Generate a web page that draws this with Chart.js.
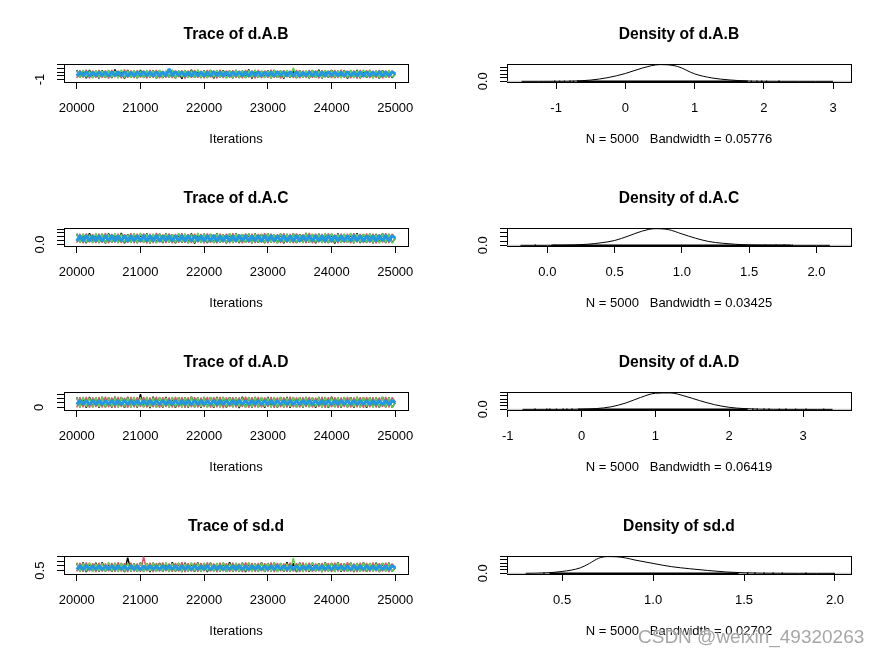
<!DOCTYPE html>
<html lang="en">
<head>
<meta charset="UTF-8">
<title>Trace and density plots</title>
<script src="https://cdn.jsdelivr.net/npm/chart.js"></script>
<style>
  body { margin: 0; background: #fff; }
  #wrap { position: relative; width: 886px; height: 655px; overflow: hidden; background: #fff; }
  .panel { position: absolute; width: 443px; height: 164px; }
  .wm { position: absolute; left: 638px; top: 626px; font: 19px 'Liberation Sans', Arial, sans-serif;
        color: rgba(150,150,150,0.85); text-shadow: 0 0 2px #fff, 0 0 2px #fff; white-space: nowrap; }
</style>
</head>
<body>
<div id="wrap">
  <div class="panel" style="left:0;top:0"><canvas id="traceAB" width="443" height="164"></canvas></div>
  <div class="panel" style="left:443px;top:0"><canvas id="densAB" width="443" height="164"></canvas></div>
  <div class="panel" style="left:0;top:164px"><canvas id="traceAC" width="443" height="164"></canvas></div>
  <div class="panel" style="left:443px;top:164px"><canvas id="densAC" width="443" height="164"></canvas></div>
  <div class="panel" style="left:0;top:328px"><canvas id="traceAD" width="443" height="164"></canvas></div>
  <div class="panel" style="left:443px;top:328px"><canvas id="densAD" width="443" height="164"></canvas></div>
  <div class="panel" style="left:0;top:492px"><canvas id="traceSD" width="443" height="164"></canvas></div>
  <div class="panel" style="left:443px;top:492px"><canvas id="densSD" width="443" height="164"></canvas></div>
  <div class="wm">CSDN @weixin_49320263</div>
</div>

<script>
// ---- data ----
const iterations = [
  20000, 20050, 20100, 20150, 20200, 20250, 20300, 20350, 20400, 20450,
  20500, 20550, 20600, 20650, 20700, 20750, 20800, 20850, 20900, 20950,
  21000, 21050, 21100, 21150, 21200, 21250, 21300, 21350, 21400, 21450,
  21500, 21550, 21600, 21650, 21700, 21750, 21800, 21850, 21900, 21950,
  22000, 22050, 22100, 22150, 22200, 22250, 22300, 22350, 22400, 22450,
  22500, 22550, 22600, 22650, 22700, 22750, 22800, 22850, 22900, 22950,
  23000, 23050, 23100, 23150, 23200, 23250, 23300, 23350, 23400, 23450,
  23500, 23550, 23600, 23650, 23700, 23750, 23800, 23850, 23900, 23950,
  24000, 24050, 24100, 24150, 24200, 24250, 24300, 24350, 24400, 24450,
  24500, 24550, 24600, 24650, 24700, 24750, 24800, 24850, 24900, 24950,
  25000];
const iterTicks = [20000, 21000, 22000, 23000, 24000, 25000];
const chainColors = ['#000000', '#DF536B', '#61D04F', '#2297E6'];

// d.A.B chains
const abChain1 = [
  1.55, -0.50, 1.40, -0.65, 1.60, -0.45, 1.35, -0.70, 1.50, -0.55,
  1.45, -0.60, 1.70, -0.40, 1.30, -0.75, 1.55, -0.50, 1.40, -0.65,
  1.60, -0.55, 1.35, -0.45, 1.50, -0.70, 1.45, -0.60, 1.25, -0.50,
  1.55, -0.65, 1.40, -0.80, 1.50, -0.45, 1.65, -0.55, 1.35, -0.60,
  1.45, -0.50, 1.60, -0.70, 1.30, -0.55, 1.50, -0.45, 1.40, -0.65,
  1.55, -0.60, 1.35, -0.50, 1.70, -0.75, 1.45, -0.55, 1.30, -0.45,
  1.50, -0.65, 1.60, -0.50, 1.40, -0.70, 1.35, -0.55, 1.55, -0.60,
  1.45, -0.45, 1.30, -0.65, 1.50, -0.55, 1.65, -0.70, 1.40, -0.50,
  1.55, -0.60, 1.35, -0.45, 1.50, -0.75, 1.45, -0.55, 1.60, -0.65,
  1.30, -0.50, 1.55, -0.60, 1.40, -0.70, 1.50, -0.45, 1.35, -0.55,
  0.50];
const abChain2 = [
  -0.60, 1.50, -0.45, 1.65, -0.70, 1.40, -0.55, 1.60, -0.50, 1.45,
  -0.75, 1.55, -0.40, 1.35, -0.65, 1.70, -0.55, 1.45, -0.60, 1.50,
  -0.45, 1.40, -0.70, 1.60, -0.50, 1.55, -0.65, 1.35, -0.55, 1.65,
  -0.60, 1.45, -0.40, 1.50, -0.75, 1.40, -0.55, 1.60, -0.50, 1.35,
  -0.65, 1.55, -0.45, 1.45, -0.70, 1.65, -0.60, 1.40, -0.50, 1.50,
  -0.55, 1.35, -0.65, 1.60, -0.45, 1.45, -0.70, 1.55, -0.60, 1.40,
  -0.50, 1.65, -0.55, 1.45, -0.75, 1.50, -0.40, 1.35, -0.60, 1.55,
  -0.65, 1.40, -0.50, 1.60, -0.55, 1.45, -0.70, 1.50, -0.45, 1.35,
  -0.60, 1.55, -0.55, 1.65, -0.50, 1.40, -0.65, 1.45, -0.75, 1.60,
  -0.45, 1.50, -0.60, 1.35, -0.55, 1.55, -0.70, 1.45, -0.50, 1.40,
  0.55];
const abChain3 = [
  1.45, -0.55, 1.60, -0.40, 1.35, -0.65, 1.50, -0.50, 1.40, -0.60,
  1.55, -0.45, 1.30, -0.70, 1.65, -0.55, 1.40, -0.50, 1.50, -0.65,
  1.35, -0.60, 1.55, -0.45, 1.45, -0.75, 1.60, -0.50, 1.40, -0.55,
  1.50, -0.65, 1.35, -0.40, 1.55, -0.60, 1.45, -0.55, 1.70, -0.50,
  1.40, -0.65, 1.50, -0.45, 1.60, -0.55, 1.35, -0.70, 1.45, -0.60,
  1.55, -0.50, 1.40, -0.65, 1.50, -0.45, 1.65, -0.55, 1.35, -0.60,
  1.45, -0.70, 1.55, -0.50, 1.40, -0.55, 1.60, -0.45, 2.20,
  -0.65, 1.35, -0.55, 1.45, -0.60, 1.55, -0.50, 1.40, -0.70, 1.60,
  -0.45, 1.50, -0.55, 1.35, -0.65, 1.45, -0.50, 1.55, -0.60, 1.40,
  -0.55, 1.65, -0.45, 1.50, -0.70, 1.35, -0.60, 1.45, -0.50, 1.55,
  -0.40, 0.45];
const abChain4 = [
  -0.05, 1.05, 0.02, 1.10, -0.08, 1.00, 0.00, 1.08, 0.05, 1.02,
  -0.10, 1.05, 0.00, 1.10, 0.02, 1.08, -0.08, 1.00, -0.05, 1.05,
  0.05, 1.10, 0.00, 1.02, -0.10, 1.08, 0.02, 1.05, -0.05, 1.90,
  0.00, 1.10, 0.05, 1.05, -0.08, 1.02, -0.05, 1.08, 0.02, 1.05,
  -0.10, 1.00, 0.00, 1.10, 0.02, 1.08, -0.05, 1.02, -0.08, 1.05,
  0.05, 1.08, 0.00, 1.02, -0.10, 1.10, 0.02, 1.05, -0.05, 1.00,
  0.00, 1.08, -0.08, 1.05, 0.05, 1.02, -0.05, 1.10, 0.00, 1.05,
  -0.10, 1.00, 0.02, 1.08, 0.00, 1.02, -0.08, 1.05, -0.05, 1.10,
  0.05, 1.05, 0.00, 1.02, -0.10, 1.08, 0.02, 1.00, -0.05, 1.05,
  -0.08, 1.08, 0.00, 1.02, 0.05, 1.10, -0.05, 1.05, 0.02, 1.08,
  0.50];

// d.A.C chains
const acChain1 = [
  1.40, 0.25, 1.32, 0.18, 1.45, 0.28, 1.30, 0.20, 1.38, 0.15,
  1.42, 0.26, 1.35, 0.22, 1.48, 0.17, 1.33, 0.24, 1.40, 0.19,
  1.36, 0.27, 1.44, 0.16, 1.31, 0.23, 1.39, 0.20, 1.46, 0.25,
  1.34, 0.18, 1.41, 0.28, 1.37, 0.21, 1.43, 0.14, 1.32, 0.26,
  1.40, 0.19, 1.35, 0.24, 1.47, 0.22, 1.30, 0.17, 1.38, 0.27,
  1.44, 0.20, 1.33, 0.25, 1.39, 0.16, 1.42, 0.23, 1.36, 0.18,
  1.45, 0.26, 1.31, 0.21, 1.40, 0.15, 1.37, 0.24, 1.43, 0.19,
  1.34, 0.27, 1.48, 0.22, 1.32, 0.17, 1.39, 0.25, 1.41, 0.20,
  1.36, 0.14, 1.44, 0.23, 1.30, 0.26, 1.38, 0.18, 1.46, 0.21,
  1.33, 0.24, 1.40, 0.16, 1.35, 0.27, 1.42, 0.19, 1.37, 0.25,
  0.80];
const acChain2 = [
  0.22, 1.38, 0.17, 1.44, 0.26, 1.33, 0.20, 1.41, 0.24, 1.47,
  0.15, 1.36, 0.27, 1.40, 0.19, 1.32, 0.23, 1.45, 0.18, 1.39,
  0.25, 1.43, 0.16, 1.35, 0.21, 1.48, 0.26, 1.31, 0.20, 1.42,
  0.17, 1.37, 0.24, 1.46, 0.22, 1.34, 0.19, 1.40, 0.27, 1.36,
  0.15, 1.44, 0.23, 1.30, 0.18, 1.41, 0.25, 1.38, 0.21, 1.47,
  0.26, 1.33, 0.17, 1.43, 0.22, 1.39, 0.20, 1.35, 0.24, 1.45,
  0.16, 1.40, 0.27, 1.32, 0.19, 1.46, 0.23, 1.37, 0.18, 1.42,
  0.25, 1.34, 0.21, 1.48, 0.15, 1.39, 0.26, 1.36, 0.20, 1.44,
  0.22, 1.31, 0.18, 1.41, 0.24, 1.38, 0.17, 1.45, 0.27, 1.35,
  0.19, 1.43, 0.23, 1.40, 0.16, 1.33, 0.25, 1.47, 0.21, 1.37,
  0.85];
const acChain3 = [
  1.36, 0.20, 1.43, 0.26, 1.31, 0.17, 1.47, 0.23, 1.39, 0.19,
  1.34, 0.25, 1.45, 0.16, 1.38, 0.28, 1.30, 0.21, 1.42, 0.18,
  1.48, 0.24, 1.35, 0.20, 1.41, 0.15, 1.37, 0.27, 1.44, 0.22,
  1.32, 0.19, 1.46, 0.25, 1.40, 0.17, 1.33, 0.23, 1.49, 0.20,
  1.38, 0.26, 1.35, 0.16, 1.43, 0.24, 1.31, 0.21, 1.45, 0.18,
  1.40, 0.27, 1.36, 0.22, 1.44, 0.15, 1.39, 0.25, 1.32, 0.19,
  1.47, 0.23, 1.34, 0.17, 1.41, 0.26, 1.37, 0.20, 1.43, 0.24,
  1.30, 0.18, 1.46, 0.22, 1.38, 0.27, 1.35, 0.16, 1.42, 0.21,
  1.45, 0.25, 1.33, 0.19, 1.40, 0.23, 1.48, 0.17, 1.36, 0.26,
  1.39, 0.20, 1.44, 0.24, 1.31, 0.18, 1.42, 0.22, 1.37, 0.15,
  0.78];
const acChain4 = [
  0.45, 1.17, 0.42, 1.20, 0.47, 1.15, 0.44, 1.18, 0.41, 1.16,
  0.48, 1.19, 0.43, 1.15, 0.46, 1.18, 0.40, 1.17, 0.45, 1.14,
  0.47, 1.20, 0.42, 1.16, 0.45, 1.21, 0.44, 1.15, 0.48, 1.18,
  0.41, 1.15, 0.46, 1.19, 0.43, 1.17, 0.45, 1.14, 0.47, 1.18,
  0.42, 1.16, 0.45, 1.20, 0.40, 1.15, 0.44, 1.18, 0.46, 1.14,
  0.43, 1.19, 0.48, 1.17, 0.41, 1.15, 0.45, 1.18, 0.42, 1.16,
  0.47, 1.21, 0.44, 1.15, 0.45, 1.18, 0.41, 1.14, 0.46, 1.19,
  0.43, 1.17, 0.48, 1.15, 0.45, 1.18, 0.42, 1.16, 0.40, 1.20,
  0.45, 1.15, 0.44, 1.18, 0.47, 1.14, 0.43, 1.19, 0.46, 1.17,
  0.41, 1.15, 0.45, 1.18, 0.42, 1.16, 0.48, 1.20, 0.44, 1.15,
  0.82];

// d.A.D chains
const adChain1 = [
  2.30, 0.00, 2.20, -0.08, 2.38, 0.05, 2.25, -0.12, 2.34, 0.02,
  2.22, -0.05, 2.40, 0.08, 2.28, -0.10, 2.35, 0.03, 2.21, -0.03,
  3.00, 0.06, 2.26, -0.14, 2.44, 0.01, 2.24, -0.06, 2.36, 0.04,
  2.20, -0.09, 2.31, 0.07, 2.27, -0.02, 2.39, 0.00, 2.23, -0.11,
  2.33, 0.05, 2.29, -0.07, 2.37, 0.02, 2.22, -0.04, 2.30, 0.08,
  2.25, -0.13, 2.42, 0.03, 2.28, -0.06, 2.34, 0.00, 2.21, -0.09,
  2.36, 0.06, 2.26, -0.03, 2.31, 0.04, 2.38, -0.10, 2.24, 0.01,
  2.29, -0.05, 2.35, 0.07, 2.20, -0.08, 2.33, 0.02, 2.27, -0.12,
  2.40, 0.05, 2.23, -0.04, 2.32, 0.00, 2.28, -0.07, 2.37, 0.03,
  2.25, -0.10, 2.30, 0.06, 2.22, -0.02, 2.34, 0.04, 2.26, -0.06,
  1.10];
const adChain2 = [
  -0.05, 2.28, 0.04, 2.35, -0.10, 2.22, 0.07, 2.31, -0.02, 2.39,
  0.02, 2.25, -0.08, 2.33, 0.05, 2.20, -0.12, 2.36, 0.00, 2.27,
  0.06, 2.34, -0.04, 2.23, 0.03, 2.41, -0.09, 2.29, 0.08, 2.24,
  -0.06, 2.37, 0.01, 2.30, -0.11, 2.26, 0.04, 2.32, -0.03, 2.21,
  0.07, 2.38, -0.07, 2.27, 0.02, 2.35, -0.13, 2.22, 0.05, 2.30,
  -0.01, 2.25, 0.06, 2.40, -0.08, 2.28, 0.03, 2.33, -0.05, 2.23,
  0.08, 2.36, -0.10, 2.26, 0.00, 2.31, -0.04, 2.39, 0.04, 2.24,
  -0.06, 2.29, 0.07, 2.34, -0.02, 2.21, 0.05, 2.37, -0.09, 2.27,
  0.01, 2.32, -0.12, 2.25, 0.06, 2.38, -0.03, 2.22, 0.02, 2.30,
  -0.07, 2.35, 0.04, 2.28, -0.05, 2.24, 0.08, 2.33, -0.01, 2.26,
  1.25];
const adChain3 = [
  2.26, -0.03, 2.35, 0.06, 2.21, -0.09, 2.32, 0.02, 2.39, -0.05,
  2.24, 0.08, 2.30, -0.11, 2.37, 0.04, 2.22, -0.02, 2.34, 0.05,
  2.28, -0.07, 2.41, 0.01, 2.25, -0.12, 2.33, 0.07, 2.20, -0.04,
  2.36, 0.03, 2.27, -0.08, 2.31, 0.06, 2.38, -0.01, 2.23, 0.04,
  2.29, -0.10, 2.35, 0.02, 2.22, -0.06, 2.40, 0.08, 2.26, -0.03,
  2.32, 0.05, 2.24, -0.09, 2.37, 0.00, 2.28, -0.05, 2.34, 0.07,
  2.21, -0.12, 2.30, 0.03, 2.39, -0.04, 2.25, 0.06, 2.33, -0.08,
  2.27, 0.01, 2.36, -0.02, 2.23, 0.05, 2.31, -0.10, 2.38, 0.04,
  2.24, -0.06, 2.29, 0.08, 2.35, -0.03, 2.22, 0.02, 2.40, -0.07,
  2.28, 0.06, 2.32, -0.11, 2.26, 0.00, 2.37, 0.03, 2.21, -0.04,
  1.15];
const adChain4 = [
  0.65, 1.56, 0.68, 1.53, 0.62, 1.58, 0.66, 1.55, 0.63, 1.52,
  0.69, 1.57, 0.64, 1.54, 0.61, 1.59, 0.67, 1.55, 0.63, 1.52,
  0.68, 1.57, 0.62, 1.54, 0.65, 1.53, 0.67, 1.58, 0.63, 1.56,
  0.66, 1.52, 0.70, 1.57, 0.62, 1.54, 0.64, 1.59, 0.68, 1.55,
  0.63, 1.52, 0.66, 1.58, 0.64, 1.54, 0.69, 1.53, 0.61, 1.58,
  0.65, 1.56, 0.67, 1.52, 0.63, 1.57, 0.70, 1.54, 0.62, 1.55,
  0.66, 1.59, 0.64, 1.52, 0.68, 1.58, 0.63, 1.54, 0.66, 1.53,
  0.64, 1.58, 0.69, 1.56, 0.62, 1.52, 0.65, 1.57, 0.67, 1.54,
  0.63, 1.55, 0.66, 1.59, 0.70, 1.53, 0.64, 1.58, 0.62, 1.54,
  0.68, 1.52, 0.64, 1.57, 0.66, 1.54, 0.63, 1.58, 0.65, 1.56,
  1.12];

// sd.d chains
const sdChain1 = [
  1.28, 0.40, 1.34, 0.37, 1.25, 0.43, 1.31, 0.39, 1.36, 0.41,
  1.23, 0.38, 1.30, 0.44, 1.27, 0.36, 1.85, 0.42, 1.24, 0.39,
  1.35, 0.41, 1.26, 0.37, 1.32, 0.43, 1.29, 0.40, 1.22, 0.38,
  1.37, 0.42, 1.28, 0.36, 1.31, 0.44, 1.25, 0.39, 1.34, 0.41,
  1.27, 0.37, 1.33, 0.43, 1.23, 0.40, 1.30, 0.38, 1.36, 0.42,
  1.26, 0.39, 1.32, 0.36, 1.29, 0.44, 1.24, 0.41, 1.35, 0.37,
  1.28, 0.43, 1.31, 0.40, 1.25, 0.38, 1.38, 0.42, 1.27, 0.36,
  1.33, 0.41, 1.22, 0.39, 1.30, 0.44, 1.26, 0.37, 1.34, 0.43,
  1.29, 0.40, 1.36, 0.38, 1.24, 0.42, 1.32, 0.36, 1.28, 0.41,
  1.35, 0.39, 1.25, 0.44, 1.31, 0.37, 1.27, 0.43, 1.33, 0.40,
  0.80];
const sdChain2 = [
  0.41, 1.30, 0.38, 1.35, 0.43, 1.26, 0.37, 1.32, 0.40, 1.24,
  0.44, 1.29, 0.39, 1.36, 0.42, 1.27, 0.36, 1.33, 0.41, 1.25,
  0.38, 1.95, 0.43, 1.31, 0.37, 1.28, 0.40, 1.34, 0.44, 1.23,
  0.39, 1.30, 0.42, 1.37, 0.36, 1.26, 0.41, 1.32, 0.38, 1.29,
  0.43, 1.35, 0.40, 1.24, 0.37, 1.31, 0.44, 1.27, 0.39, 1.33,
  0.42, 1.25, 0.36, 1.36, 0.41, 1.28, 0.38, 1.30, 0.43, 1.26,
  0.40, 1.34, 0.37, 1.29, 0.44, 1.23, 0.39, 1.32, 0.42, 1.27,
  0.36, 1.35, 0.41, 1.31, 0.38, 1.24, 0.43, 1.30, 0.40, 1.28,
  0.37, 1.33, 0.44, 1.26, 0.39, 1.36, 0.42, 1.25, 0.36, 1.32,
  0.41, 1.29, 0.38, 1.34, 0.43, 1.27, 0.40, 1.31, 0.37, 1.23,
  0.78];
const sdChain3 = [
  1.32, 0.39, 1.27, 0.43, 1.35, 0.37, 1.24, 0.41, 1.30, 0.38,
  1.36, 0.42, 1.26, 0.36, 1.33, 0.40, 1.29, 0.44, 1.23, 0.39,
  1.34, 0.37, 1.28, 0.43, 1.31, 0.38, 1.25, 0.41, 1.37, 0.36,
  1.27, 0.42, 1.32, 0.39, 1.24, 0.44, 1.35, 0.40, 1.29, 0.37,
  1.33, 0.43, 1.26, 0.38, 1.30, 0.41, 1.36, 0.36, 1.25, 0.42,
  1.31, 0.39, 1.28, 0.44, 1.34, 0.37, 1.23, 0.40, 1.32, 0.38,
  1.27, 0.43, 1.35, 0.36, 1.29, 0.41, 1.24, 0.39, 1.80,
  0.42, 1.26, 0.37, 1.30, 0.44, 1.36, 0.40, 1.25, 0.38, 1.31,
  0.41, 1.28, 0.36, 1.34, 0.43, 1.23, 0.39, 1.32, 0.42, 1.27,
  0.37, 1.35, 0.40, 1.29, 0.44, 1.24, 0.38, 1.33, 0.41, 1.26,
  0.40, 0.82];
const sdChain4 = [
  0.62, 1.00, 0.60, 1.03, 0.63, 0.98, 0.61, 1.02, 0.59, 0.99,
  0.63, 1.02, 0.60, 1.00, 0.64, 0.97, 0.61, 1.04, 0.60, 1.00,
  0.58, 0.99, 0.63, 1.02, 0.61, 0.98, 0.62, 1.01, 0.60, 1.03,
  0.64, 1.00, 0.59, 1.01, 0.61, 0.97, 0.60, 1.02, 0.63, 0.99,
  0.61, 1.04, 0.58, 1.00, 0.62, 1.01, 0.60, 0.98, 0.64, 1.00,
  0.60, 1.03, 0.61, 0.99, 0.59, 1.02, 0.63, 1.00, 0.61, 0.97,
  0.62, 1.01, 0.60, 1.04, 0.64, 0.99, 0.58, 1.00, 0.61, 1.02,
  0.60, 0.98, 0.63, 1.03, 0.59, 1.00, 0.61, 1.01, 0.62, 0.99,
  0.60, 1.02, 0.64, 0.97, 0.61, 1.00, 0.58, 1.04, 0.60, 1.00,
  0.63, 1.01, 0.61, 0.98, 0.59, 1.03, 0.62, 0.99, 0.60, 1.00,
  0.80];

// density curves (x grid, density)
const densABx = [-1.5, -1.25, -1.0, -0.75, -0.5, -0.25, 0, 0.25, 0.5, 0.75, 1.0, 1.25, 1.5, 1.75, 2.0, 2.25, 2.5, 2.75, 3.0];
const densABy = [0, 0, 0.003, 0.015, 0.07, 0.21, 0.44, 0.75, 0.94, 0.84, 0.42, 0.19, 0.08, 0.02, 0.005, 0.001, 0, 0, 0];
const densACx = [-0.2, -0.1, 0.0, 0.1, 0.2, 0.3, 0.4, 0.5, 0.6, 0.7, 0.8, 0.9, 1.0, 1.1, 1.2, 1.3, 1.4, 1.5, 1.6, 1.7, 1.8, 1.9, 2.0, 2.1];
const densACy = [0, 0, 0.002, 0.008, 0.04, 0.13, 0.30, 0.57, 1.09, 1.66, 1.97, 1.86, 1.35, 0.85, 0.45, 0.25, 0.12, 0.04, 0.012, 0.004, 0.001, 0, 0, 0];
const densADx = [-0.8, -0.6, -0.4, -0.2, 0.0, 0.2, 0.4, 0.6, 0.8, 1.0, 1.2, 1.4, 1.6, 1.8, 2.0, 2.2, 2.4, 2.6, 2.8, 3.0, 3.2, 3.4];
const densADy = [0, 0, 0, 0.002, 0.01, 0.045, 0.15, 0.38, 0.71, 0.96, 0.98, 0.79, 0.52, 0.28, 0.12, 0.045, 0.013, 0.004, 0.001, 0, 0, 0];
const densSDx = [0.3, 0.4, 0.5, 0.6, 0.65, 0.7, 0.75, 0.8, 0.85, 0.9, 1.0, 1.1, 1.2, 1.3, 1.4, 1.5, 1.6, 1.7, 1.8, 1.9, 2.0];
const densSDy = [0.005, 0.06, 0.27, 0.8, 1.45, 2.2, 2.45, 2.42, 2.25, 1.95, 1.45, 0.98, 0.68, 0.42, 0.2, 0.08, 0.03, 0.01, 0.003, 0.001, 0];

// observation rug: dense span and isolated tail values
const rugABspan = [-0.7, 1.77];
const rugABobs = [-1.02, -0.95, -0.88, -0.80, -0.75, 1.82, 1.90, 1.97, 2.04, 2.22];
const rugACspan = [0.03, 1.81];
const rugACobs = [-0.09, 0.06, 1.62, 1.70, 1.76, 1.82];
const rugADspan = [-0.05, 2.25];
const rugADobs = [-0.63, -0.47, -0.43, -0.34, -0.25, -0.20, -0.13, 2.32, 2.38, 2.47, 2.54, 2.68, 2.77, 2.90, 3.04, 3.28];
const rugSDspan = [0.43, 1.47];
const rugSDobs = [0.40, 1.52, 1.56, 1.61, 1.66, 1.71, 1.84];

// ---- drawing ----
Chart.defaults.font.family = "'Liberation Sans', Arial, sans-serif";
Chart.defaults.font.size = 13;
Chart.defaults.color = '#000';
Chart.defaults.animation = false;

const boxPlugin = {
  id: 'box',
  beforeDatasetsDraw(chart) {
    const a = chart.chartArea, c = chart.ctx;
    c.save();
    c.strokeStyle = '#000';
    c.lineWidth = 1;
    c.strokeRect(Math.round(a.left) + 0.5, Math.round(a.top) + 0.5,
                 Math.round(a.right - a.left), Math.round(a.bottom - a.top));
    c.restore();
  }
};

function xAxis(min, max, step, fmt, title, fixedTicks) {
  const ax = {
    type: 'linear', min: min, max: max,
    border: { display: false },
    grid: { drawOnChartArea: false, drawTicks: true, tickLength: 7, color: '#000' },
    ticks: { stepSize: step, includeBounds: false, autoSkip: false, maxRotation: 0, padding: 12, callback: fmt },
    title: { display: true, text: title, padding: { top: 0, bottom: 17 } },
    afterFit: s => { s.height = 82; }
  };
  if (fixedTicks) ax.afterBuildTicks = s => { s.ticks = fixedTicks.map(v => ({ value: v })); };
  return ax;
}

function yAxis(min, max, step, label) {
  return {
    type: 'linear', min: min, max: max,
    border: { display: false },
    grid: { drawOnChartArea: false, drawTicks: true, tickLength: 7, color: '#000' },
    ticks: {
      stepSize: step, includeBounds: false, autoSkip: false,
      minRotation: 90, maxRotation: 90, crossAlign: 'center',
      padding: 17 - label.length * 3,
      callback: (v, i) => i === 0 ? label : ''
    },
    afterFit: s => { s.width = 64; }
  };
}

function commonOptions(title, xs, ys) {
  return {
    responsive: false,
    devicePixelRatio: 1,
    layout: { padding: { left: 0, right: 35, top: 0, bottom: 0 } },
    scales: { x: xs, y: ys },
    plugins: {
      legend: { display: false },
      tooltip: { enabled: false },
      title: {
        display: true, text: title, fullSize: false, color: '#000',
        font: { size: 15.6, weight: 'bold' },
        padding: { top: 25.6, bottom: 19.6 }
      }
    }
  };
}

function makeTrace(id, title, chains, ymin, ymax, ystep, ylabel) {
  new Chart(document.getElementById(id), {
    type: 'line',
    data: {
      datasets: chains.map((vals, k) => ({
        data: vals.map((v, i) => ({ x: iterations[i], y: v })),
        borderColor: chainColors[k],
        borderWidth: k === 3 ? 3 : 1.5,
        borderJoinStyle: 'bevel',
        pointRadius: 0,
        order: 4 - k
      }))
    },
    options: commonOptions(title,
      xAxis(19800, 25200, 1000, v => String(v), 'Iterations', iterTicks),
      yAxis(ymin, ymax, ystep, ylabel)),
    plugins: [boxPlugin]
  });
}

function makeDensity(id, title, xs, ys, span, obs, xmin, xmax, xstep, xdec, ymin, ymax, ystep, caption) {
  new Chart(document.getElementById(id), {
    type: 'line',
    data: {
      datasets: [
        { data: [{ x: xmin, y: 0 }, { x: xmax, y: 0 }], borderColor: '#bebebe', borderWidth: 1, pointRadius: 0, order: 3 },
        { data: span.map(v => ({ x: v, y: 0 })), borderColor: '#000', borderWidth: 1.5, pointRadius: 0, order: 2 },
        { data: obs.map(v => ({ x: v, y: 0 })), showLine: false, pointStyle: 'rect', pointRadius: 1,
          pointBackgroundColor: '#000', pointBorderWidth: 0, order: 1 },
        { data: xs.map((v, i) => ({ x: v, y: ys[i] })), borderColor: '#000', borderWidth: 1, pointRadius: 0,
          cubicInterpolationMode: 'monotone', order: 0 }
      ]
    },
    options: commonOptions(title,
      xAxis(xmin, xmax, xstep, v => v.toFixed(xdec), caption),
      yAxis(ymin, ymax, ystep, '0.0')),
    plugins: [boxPlugin]
  });
}

makeTrace('traceAB', 'Trace of d.A.B', [abChain1, abChain2, abChain3, abChain4], -1.70, 3.25, 1, '-1');
makeTrace('traceAC', 'Trace of d.A.C', [acChain1, acChain2, acChain3, acChain4], -0.19, 2.15, 0.5, '0.0');
makeTrace('traceAD', 'Trace of d.A.D', [adChain1, adChain2, adChain3, adChain4], -0.60, 3.50, 1, '0');
makeTrace('traceSD', 'Trace of sd.d', [sdChain1, sdChain2, sdChain3, sdChain4], 0.15, 2.03, 0.5, '0.5');

makeDensity('densAB', 'Density of d.A.B', densABx, densABy, rugABspan, rugABobs,
  -1.71, 3.26, 1, 0, -0.038, 0.978, 0.2, 'N = 5000   Bandwidth = 0.05776');
makeDensity('densAC', 'Density of d.A.C', densACx, densACy, rugACspan, rugACobs,
  -0.30, 2.257, 0.5, 1, -0.08, 2.06, 0.5, 'N = 5000   Bandwidth = 0.03425');
makeDensity('densAD', 'Density of d.A.D', densADx, densADy, rugADspan, rugADobs,
  -1.01, 3.65, 1, 0, -0.04, 1.04, 0.2, 'N = 5000   Bandwidth = 0.06419');
makeDensity('densSD', 'Density of sd.d', densSDx, densSDy, rugSDspan, rugSDobs,
  0.197, 2.088, 0.5, 1, -0.098, 2.55, 0.5, 'N = 5000   Bandwidth = 0.02702');
</script>
</body>
</html>
